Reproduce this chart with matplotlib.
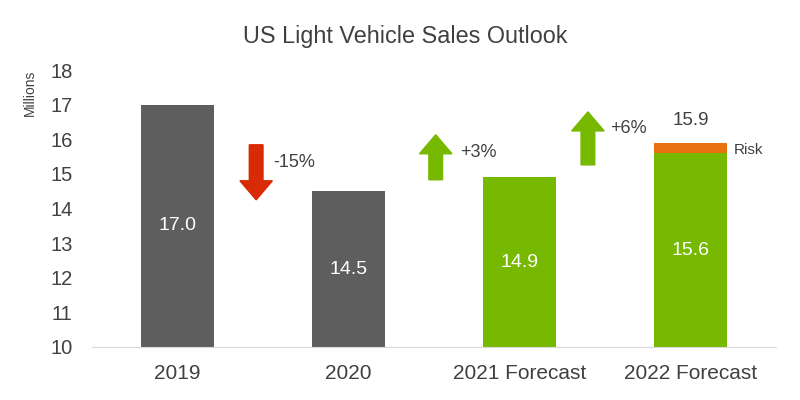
import matplotlib.pyplot as plt
from matplotlib.patches import FancyArrow

# Data
categories = ["2019", "2020", "2021 Forecast", "2022 Forecast"]
base_values = [17.0, 14.5, 14.9, 15.6]
risk_values = [0, 0, 0, 0.3]
totals = [17.0, 14.5, 14.9, 15.9]
changes = ["-15%", "+3%", "+6%"]

gray = '#5e5e5e'
green = '#76b900'
orange = '#e8700e'
red = '#d92a06'
bar_colors = [gray, gray, green, green]

plt.rcParams['font.family'] = ['Liberation Sans', 'DejaVu Sans']

fig = plt.figure(figsize=(8, 4), dpi=100)
ax = fig.add_axes([0.115, 0.1325, 0.855, 0.6925])

x = list(range(len(categories)))
ax.bar(x, [v - 10 for v in base_values], bottom=10, width=0.43, color=bar_colors, zorder=2)
ax.bar(x, risk_values, bottom=base_values, width=0.43, color=orange, zorder=2)

# labels inside bars
for i, v in enumerate(base_values):
    ax.text(i, (10 + v) / 2, f"{v:.1f}", color='white', ha='center', va='center', fontsize=14)

ax.text(3, totals[3] + 0.64, f"{totals[3]:.1f}", color='#404040', ha='center', va='center', fontsize=13.5)
ax.text(3.255, base_values[3] + 0.09, "Risk", color='#404040', ha='left', va='center', fontsize=11)

# change arrows (between bars)
arrow_specs = [
    # x, y start, dy, color
    (0.46, 15.84, -1.59, red),
    (1.51, 14.83, 1.30, green),
    (2.40, 15.26, 1.53, green),
]
label_pos = [(0.56, 15.32), (1.65, 15.62), (2.53, 16.3)]
for (ax_x, y0, dy, c), txt, (lx, ly) in zip(arrow_specs, changes, label_pos):
    ax.add_patch(FancyArrow(ax_x, y0, 0, dy, width=0.08, head_width=0.19, head_length=0.55,
                            length_includes_head=True, color=c, zorder=3))
    ax.text(lx, ly, txt, color='#404040', ha='left', va='center', fontsize=13)

ax.set_xlim(-0.5, 3.5)
ax.set_ylim(10, 18)
ax.set_yticks(range(10, 19))
ax.set_xticks(x)
ax.set_xticklabels(categories)
ax.tick_params(axis='both', length=0, colors='#404040')
ax.tick_params(axis='x', pad=12, labelsize=15)
ax.tick_params(axis='y', pad=14, labelsize=14.5)

for s in ['top', 'right', 'left']:
    ax.spines[s].set_visible(False)
ax.spines['bottom'].set_color('#d9d9d9')

fig.text(0.037, 0.7675, "Millions", rotation=90, ha='center', va='center', fontsize=10, color='#404040')
fig.text(0.507, 0.91, "US Light Vehicle Sales Outlook", ha='center', va='center', fontsize=16.8, color='#404040')

fig.savefig("out.png", dpi=100)
